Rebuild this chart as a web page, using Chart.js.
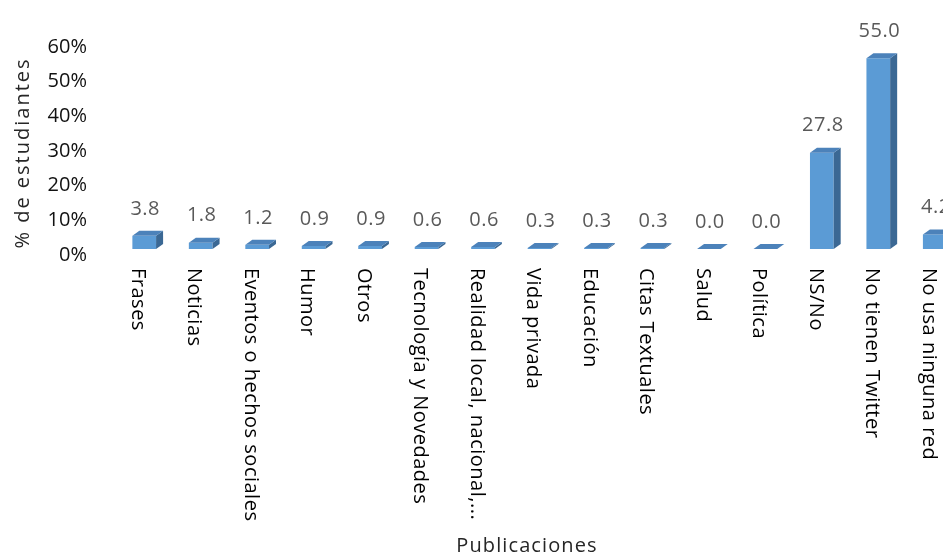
<!DOCTYPE html>
<html>
<head>
<meta charset="utf-8">
<script src="https://cdn.jsdelivr.net/npm/chart.js@4.4.0/dist/chart.umd.min.js"></script>
<style>
  html, body { margin: 0; padding: 0; background: #fff; overflow: hidden; }
  #wrap { width: 970px; height: 556px; }
</style>
</head>
<body>
<div id="wrap"><canvas id="grafico" width="970" height="556"></canvas></div>
<script>
// datos
const categorias = ['Frases', 'Noticias', 'Eventos o hechos sociales', 'Humor', 'Otros',
  'Tecnología y Novedades', 'Realidad local, nacional,...', 'Vida privada', 'Educación',
  'Citas Textuales', 'Salud', 'Política', 'NS/No', 'No tienen Twitter', 'No usa ninguna red'];
const porcentajes = [3.8, 1.8, 1.2, 0.9, 0.9, 0.6, 0.6, 0.3, 0.3, 0.3, 0.0, 0.0, 27.8, 55.0, 4.2];
const ticksY = [0, 10, 20, 30, 40, 50, 60];
const tituloX = 'Publicaciones';
const tituloY = '% de estudiantes';

const fuente = '"Open Sans", "Noto Sans", sans-serif';

// caras laterales y superiores de las barras (efecto 3D)
const barras3D = {
  id: 'barras3D',
  afterDatasetsDraw(chart) {
    const ctx = chart.ctx;
    const dx = 7, dy = 5;
    chart.getDatasetMeta(0).data.forEach(function (bar) {
      const w = bar.width / 2;
      const top = bar.y, base = bar.base;
      ctx.save();
      // lado
      ctx.fillStyle = '#3b6894';
      ctx.beginPath();
      ctx.moveTo(bar.x + w, top);
      ctx.lineTo(bar.x + w + dx, top - dy);
      ctx.lineTo(bar.x + w + dx, base - dy);
      ctx.lineTo(bar.x + w, base);
      ctx.closePath();
      ctx.fill();
      // tapa
      ctx.fillStyle = '#4c82ba';
      ctx.beginPath();
      ctx.moveTo(bar.x - w, top);
      ctx.lineTo(bar.x - w + dx, top - dy);
      ctx.lineTo(bar.x + w + dx, top - dy);
      ctx.lineTo(bar.x + w, top);
      ctx.closePath();
      ctx.fill();
      ctx.restore();
    });
  }
};

// textos: etiquetas de datos, categorias rotadas y titulos
const textos = {
  id: 'textos',
  afterDraw(chart) {
    const ctx = chart.ctx;
    const xs = chart.scales.x;
    ctx.save();
    ctx.font = '20px ' + fuente;
    ctx.textBaseline = 'middle';

    // valores
    ctx.fillStyle = '#595959';
    ctx.textAlign = 'center';
    ctx.letterSpacing = '0.5px';
    chart.getDatasetMeta(0).data.forEach(function (bar, i) {
      ctx.fillText(porcentajes[i].toFixed(1), bar.x + 1, bar.y - 27);
    });

    // categorias
    ctx.fillStyle = '#000';
    ctx.textAlign = 'left';
    categorias.forEach(function (c, i) {
      ctx.save();
      ctx.translate(xs.getPixelForTick(i) - 6.5, 268);
      ctx.rotate(Math.PI / 2);
      ctx.fillText(c, 0, 0);
      ctx.restore();
    });

    // titulos
    ctx.fillStyle = '#262626';
    ctx.textAlign = 'center';
    ctx.letterSpacing = '1.1px';
    ctx.fillText(tituloX, 527, 546);
    ctx.save();
    ctx.translate(23, 153);
    ctx.rotate(-Math.PI / 2);
    ctx.letterSpacing = '2px';
    ctx.fillText(tituloY, 0, 0);
    ctx.restore();

    ctx.letterSpacing = '0px';
    ctx.restore();
  }
};

new Chart(document.getElementById('grafico').getContext('2d'), {
  type: 'bar',
  data: {
    labels: categorias,
    datasets: [{
      label: tituloY,
      data: porcentajes,
      backgroundColor: '#5b9bd5',
      borderWidth: 0,
      categoryPercentage: 1,
      barPercentage: 0.42
    }]
  },
  options: {
    responsive: false,
    animation: false,
    events: [],
    layout: { padding: { left: 0, top: 37, right: 7, bottom: 0 } },
    plugins: {
      legend: { display: false },
      tooltip: { enabled: false }
    },
    scales: {
      x: {
        grid: { display: false, drawTicks: false },
        border: { display: false },
        ticks: { display: false },
        afterFit: function (scale) { scale.height = 307; }
      },
      y: {
        min: 0,
        max: 60,
        grid: { display: false, drawTicks: false },
        border: { display: false },
        afterBuildTicks: function (scale) {
          scale.ticks = ticksY.map(function (v) { return { value: v }; });
        },
        afterFit: function (scale) { scale.width = 116; },
        ticks: {
          padding: 29,
          labelOffset: 6,
          color: '#111',
          font: { family: fuente, size: 20 },
          callback: function (v) { return v + '%'; }
        }
      }
    }
  },
  plugins: [barras3D, textos]
});
</script>
</body>
</html>
